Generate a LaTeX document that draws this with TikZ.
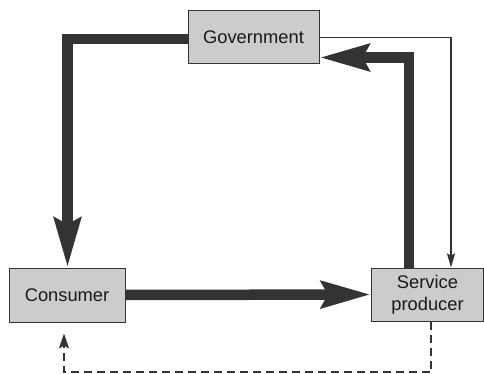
\documentclass[tikz,border=0pt]{standalone}
\usepackage{fontspec}
\setmainfont{Liberation Sans}
\usetikzlibrary{arrows.meta}
\definecolor{boxfill}{HTML}{CCCCCC}
\definecolor{ink}{HTML}{333333}
\begin{document}
\begin{tikzpicture}[x=1pt,y=-1pt,
  box/.style={draw=ink, line width=1pt, fill=boxfill, inner sep=0pt, align=center,
    font=\fontsize{18.3}{22}\selectfont, text=black!90},
  thick flow/.style={draw=ink, line width=10.5pt,
    -{Stealth[length=49pt,width=26pt,inset=6pt]}},
  thin flow/.style={draw=ink, line width=1.5pt,
    -{Stealth[length=14pt,width=8pt,inset=2pt]}},
  back flow/.style={draw=ink, line width=1.5pt, dash pattern=on 8pt off 5pt,
    -{Stealth[length=15pt,width=10pt,inset=3pt]}}]
\useasboundingbox (0,0) rectangle (484,374);
\fill[white] (0,0) rectangle (484,374);
\node[box, minimum width=131pt, minimum height=53pt] (gov) at (253.5,37.5) {Government};
\node[box, minimum width=116pt, minimum height=54pt] (con) at (67,295) {Consumer};
\node[box, minimum width=112pt, minimum height=53pt] (sp) at (427.5,294.5) {Service\\producer};
% thick flows
\draw[thick flow] ([yshift=-1.5pt]gov.west) -| ([xshift=0.5pt]con.north);
\draw[thick flow] (con.east) -- (sp.west);
\draw[thick flow] ([xshift=-18.5pt]sp.north) |- ([yshift=-20pt]gov.east);
% thin flow
\draw[thin flow] (gov.east) -| ([xshift=23.5pt]sp.north);
% dashed feedback
\coordinate (dd) at (431,372);
\draw[back flow, shorten >=11pt] ([xshift=3.5pt]sp.south) |- ([xshift=-3pt]con.south |- dd) -- ([xshift=-3pt]con.south);
\end{tikzpicture}
\end{document}
